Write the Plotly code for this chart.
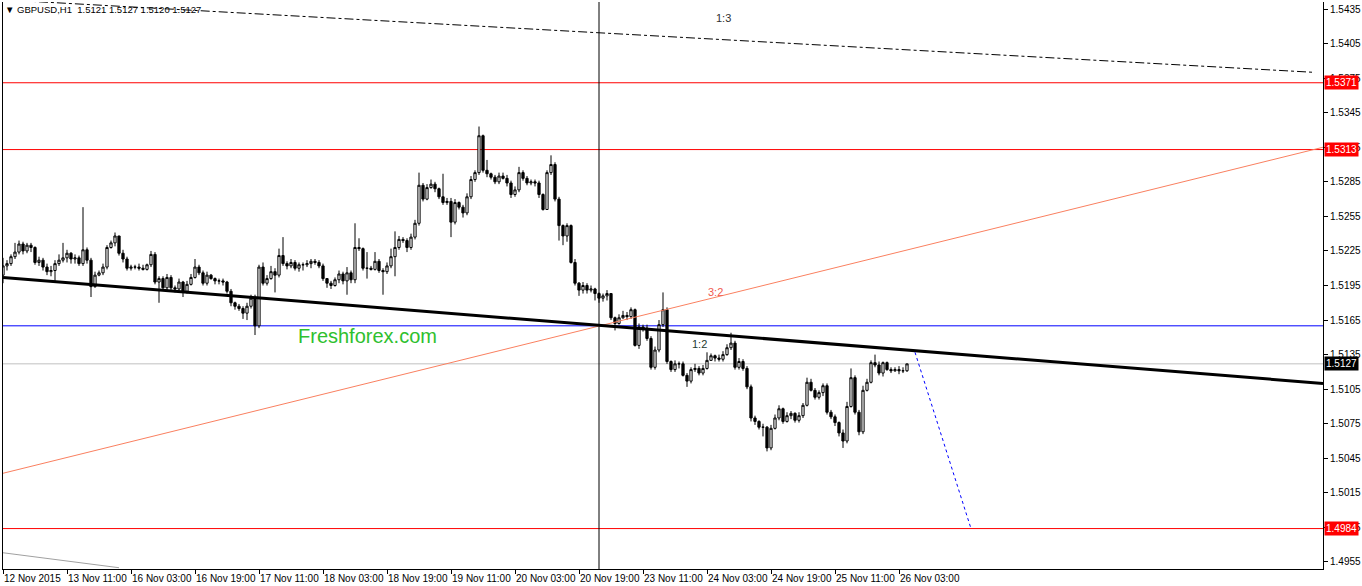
import plotly.graph_objects as go

# GBPUSD H1, bars indexed 0..226 (weekend gap removed like MT4)
first_open = 1.5204
closes = [
    1.5212, 1.5214, 1.5220, 1.5224, 1.5231, 1.5225, 1.5230, 1.5228, 1.5215, 1.5217,
    1.5211, 1.5207, 1.5208, 1.5214, 1.5217, 1.5219, 1.5223, 1.5218, 1.5219, 1.5214,
    1.5226, 1.5217, 1.5194, 1.5204, 1.5206, 1.5211, 1.5228, 1.5232, 1.5238, 1.5223,
    1.5218, 1.5210, 1.5211, 1.5211, 1.5210, 1.5209, 1.5213, 1.5222, 1.5198, 1.5201,
    1.5193, 1.5202, 1.5193, 1.5192, 1.5198, 1.5190, 1.5196, 1.5202, 1.5211, 1.5206,
    1.5197, 1.5204, 1.5201, 1.5199, 1.5199, 1.5198, 1.5190, 1.5180, 1.5177, 1.5175,
    1.5171, 1.5177, 1.5184, 1.5160, 1.5211, 1.5197, 1.5201, 1.5207, 1.5204, 1.5221,
    1.5214, 1.5212, 1.5215, 1.5210, 1.5213, 1.5213, 1.5214, 1.5216, 1.5215, 1.5212,
    1.5201, 1.5197, 1.5195, 1.5200, 1.5205, 1.5199, 1.5206, 1.5200, 1.5228, 1.5227,
    1.5210, 1.5210, 1.5209, 1.5216, 1.5208, 1.5207, 1.5212, 1.5220, 1.5228, 1.5235,
    1.5234, 1.5228, 1.5237, 1.5249, 1.5282, 1.5270, 1.5280, 1.5283, 1.5279, 1.5272,
    1.5267, 1.5268, 1.5250, 1.5267, 1.5263, 1.5258, 1.5272, 1.5287, 1.5293, 1.5325,
    1.5295, 1.5292, 1.5289, 1.5285, 1.5290, 1.5288, 1.5284, 1.5274, 1.5278, 1.5293,
    1.5288, 1.5284, 1.5285, 1.5284, 1.5274, 1.5261, 1.5293, 1.5300, 1.5270, 1.5247,
    1.5238, 1.5247, 1.5215, 1.5197, 1.5191, 1.5195, 1.5191, 1.5192, 1.5188, 1.5184,
    1.5186, 1.5188, 1.5167, 1.5162, 1.5167, 1.5169, 1.5168, 1.5174, 1.5143, 1.5159,
    1.5158, 1.5149, 1.5124, 1.5139, 1.5161, 1.5174, 1.5129, 1.5122, 1.5127, 1.5127,
    1.5117, 1.5112, 1.5122, 1.5123, 1.5119, 1.5123, 1.5130, 1.5134, 1.5132, 1.5131,
    1.5135, 1.5141, 1.5145, 1.5124, 1.5129, 1.5123, 1.5107, 1.5080, 1.5077, 1.5072,
    1.5072, 1.5054, 1.5071, 1.5080, 1.5088, 1.5077, 1.5082, 1.5084, 1.5078, 1.5082,
    1.5091, 1.5111, 1.5104, 1.5098, 1.5102, 1.5108, 1.5085, 1.5081, 1.5076, 1.5067,
    1.5060, 1.5090, 1.5115, 1.5085, 1.5068, 1.5104, 1.5111, 1.5128, 1.5126, 1.5119,
    1.5128, 1.5122, 1.5121, 1.5122, 1.5121, 1.5121, 1.5127,
]
highs = [
    1.5219, 1.5217, 1.5222, 1.5232, 1.5234, 1.5233, 1.5232, 1.5232, 1.5229, 1.5220,
    1.5219, 1.5214, 1.5212, 1.5217, 1.5222, 1.5232, 1.5226, 1.5224, 1.5222, 1.5221,
    1.5263, 1.5228, 1.5219, 1.5207, 1.5208, 1.5214, 1.5230, 1.5234, 1.5241, 1.5236,
    1.5226, 1.5220, 1.5213, 1.5213, 1.5214, 1.5213, 1.5214, 1.5225, 1.5224, 1.5203,
    1.5203, 1.5205, 1.5204, 1.5195, 1.5201, 1.5199, 1.5199, 1.5205, 1.5218, 1.5213,
    1.5208, 1.5207, 1.5205, 1.5202, 1.5201, 1.5201, 1.5199, 1.5192, 1.5181, 1.5179,
    1.5177, 1.5180, 1.5187, 1.5187, 1.5213, 1.5215, 1.5204, 1.5212, 1.5210, 1.5227,
    1.5237, 1.5216, 1.5218, 1.5217, 1.5215, 1.5215, 1.5217, 1.5218, 1.5218, 1.5217,
    1.5214, 1.5201, 1.5199, 1.5202, 1.5208, 1.5207, 1.5211, 1.5208, 1.5249, 1.5236,
    1.5228, 1.5224, 1.5212, 1.5224, 1.5218, 1.5210, 1.5215, 1.5227, 1.5242, 1.5238,
    1.5237, 1.5236, 1.5240, 1.5252, 1.5293, 1.5284, 1.5283, 1.5287, 1.5285, 1.5280,
    1.5292, 1.5271, 1.5271, 1.5270, 1.5268, 1.5265, 1.5275, 1.5290, 1.5295, 1.5333,
    1.5326, 1.5304, 1.5293, 1.5291, 1.5293, 1.5293, 1.5291, 1.5286, 1.5281, 1.5298,
    1.5295, 1.5290, 1.5287, 1.5287, 1.5286, 1.5275, 1.5295, 1.5308, 1.5302, 1.5272,
    1.5248, 1.5249, 1.5248, 1.5218, 1.5198, 1.5198, 1.5197, 1.5195, 1.5193, 1.5189,
    1.5188, 1.5191, 1.5188, 1.5168, 1.5170, 1.5173, 1.5172, 1.5176, 1.5175, 1.5162,
    1.5161, 1.5161, 1.5151, 1.5142, 1.5165, 1.5189, 1.5176, 1.5130, 1.5130, 1.5129,
    1.5129, 1.5119, 1.5124, 1.5127, 1.5125, 1.5126, 1.5137, 1.5136, 1.5135, 1.5135,
    1.5138, 1.5144, 1.5154, 1.5147, 1.5132, 1.5131, 1.5125, 1.5109, 1.5082, 1.5078,
    1.5075, 1.5073, 1.5074, 1.5083, 1.5091, 1.5089, 1.5085, 1.5086, 1.5085, 1.5085,
    1.5093, 1.5115, 1.5114, 1.5106, 1.5104, 1.5110, 1.5110, 1.5087, 1.5083, 1.5077,
    1.5070, 1.5094, 1.5123, 1.5117, 1.5087, 1.5108, 1.5114, 1.5130, 1.5135, 1.5129,
    1.5129, 1.5129, 1.5124, 1.5124, 1.5125, 1.5124, 1.5127,
]
lows = [
    1.5197, 1.5208, 1.5212, 1.5218, 1.5222, 1.5222, 1.5223, 1.5224, 1.5213, 1.5212,
    1.5208, 1.5204, 1.5203, 1.5199, 1.5212, 1.5215, 1.5215, 1.5214, 1.5214, 1.5212,
    1.5212, 1.5214, 1.5185, 1.5193, 1.5203, 1.5204, 1.5209, 1.5227, 1.5229, 1.5221,
    1.5215, 1.5208, 1.5208, 1.5209, 1.5208, 1.5208, 1.5208, 1.5211, 1.5196, 1.5180,
    1.5191, 1.5191, 1.5191, 1.5189, 1.5189, 1.5185, 1.5188, 1.5195, 1.5201, 1.5204,
    1.5195, 1.5195, 1.5200, 1.5196, 1.5196, 1.5195, 1.5188, 1.5177, 1.5174, 1.5173,
    1.5166, 1.5165, 1.5175, 1.5152, 1.5158, 1.5195, 1.5195, 1.5200, 1.5189, 1.5202,
    1.5212, 1.5209, 1.5210, 1.5208, 1.5207, 1.5208, 1.5211, 1.5210, 1.5213, 1.5210,
    1.5199, 1.5193, 1.5192, 1.5194, 1.5197, 1.5196, 1.5187, 1.5197, 1.5197, 1.5225,
    1.5208, 1.5201, 1.5208, 1.5208, 1.5206, 1.5187, 1.5205, 1.5210, 1.5203, 1.5226,
    1.5232, 1.5224, 1.5226, 1.5235, 1.5247, 1.5268, 1.5269, 1.5279, 1.5276, 1.5270,
    1.5265, 1.5265, 1.5237, 1.5248, 1.5261, 1.5254, 1.5256, 1.5270, 1.5285, 1.5291,
    1.5293, 1.5289, 1.5287, 1.5283, 1.5283, 1.5287, 1.5281, 1.5271, 1.5272, 1.5276,
    1.5286, 1.5282, 1.5282, 1.5281, 1.5271, 1.5260, 1.5261, 1.5291, 1.5268, 1.5234,
    1.5230, 1.5233, 1.5214, 1.5195, 1.5186, 1.5188, 1.5188, 1.5189, 1.5182, 1.5180,
    1.5181, 1.5182, 1.5165, 1.5156, 1.5161, 1.5166, 1.5165, 1.5166, 1.5142, 1.5140,
    1.5155, 1.5147, 1.5122, 1.5122, 1.5137, 1.5159, 1.5127, 1.5120, 1.5120, 1.5123,
    1.5116, 1.5107, 1.5110, 1.5120, 1.5117, 1.5117, 1.5122, 1.5130, 1.5129, 1.5129,
    1.5129, 1.5134, 1.5139, 1.5122, 1.5122, 1.5121, 1.5105, 1.5077, 1.5074, 1.5070,
    1.5064, 1.5051, 1.5052, 1.5070, 1.5078, 1.5075, 1.5076, 1.5079, 1.5076, 1.5076,
    1.5080, 1.5090, 1.5103, 1.5096, 1.5096, 1.5099, 1.5083, 1.5079, 1.5073, 1.5064,
    1.5054, 1.5058, 1.5089, 1.5083, 1.5065, 1.5066, 1.5103, 1.5110, 1.5124, 1.5117,
    1.5116, 1.5121, 1.5119, 1.5120, 1.5118, 1.5119, 1.5120,
]
opens = [first_open] + closes[:-1]
bars = list(range(len(closes)))

tick_bars = [0, 16, 32, 48, 64, 80, 96, 112, 128, 144, 160, 176, 192, 208, 224]
tick_text = ["12 Nov 2015", "13 Nov 11:00", "16 Nov 03:00", "16 Nov 19:00", "17 Nov 11:00",
             "18 Nov 03:00", "18 Nov 19:00", "19 Nov 11:00", "20 Nov 03:00", "20 Nov 19:00",
             "23 Nov 11:00", "24 Nov 03:00", "24 Nov 19:00", "25 Nov 11:00", "26 Nov 03:00"]
price_ticks = [1.4955, 1.4985, 1.5015, 1.5045, 1.5075, 1.5105, 1.5135, 1.5165, 1.5195,
               1.5225, 1.5255, 1.5285, 1.5315, 1.5345, 1.5375, 1.5405, 1.5435]

# drawn objects (bar index, price)
trend_x, trend_y = [0, 330], [1.5202, 1.5110]
fan32_x, fan32_y = [0, 330], [1.5032, 1.5315]
fan13_x, fan13_y = [0, 328], [1.5443, 1.5380]
grey_x, grey_y = [0, 29], [1.4963, 1.4950]
proj_x, proj_y = [228, 242], [1.5137, 1.4984]
week_x = 149
red_levels = [1.5371, 1.5313, 1.4984]
blue_level = 1.5160
last_price = 1.5127

FONT = "Liberation Sans"
fig = go.Figure()

fig.add_trace(go.Candlestick(
    x=bars, open=opens, high=highs, low=lows, close=closes,
    increasing=dict(line=dict(color="black", width=1), fillcolor="white"),
    decreasing=dict(line=dict(color="black", width=1), fillcolor="black"),
    whiskerwidth=0, hoverinfo="skip", showlegend=False,
))

for lvl in red_levels:
    fig.add_hline(y=lvl, line=dict(color="#FF0000", width=1), layer="below")
fig.add_hline(y=blue_level, line=dict(color="#0000FF", width=1), layer="below")
fig.add_hline(y=last_price, line=dict(color="#C0C0C0", width=1), layer="below")
fig.add_vline(x=week_x, line=dict(color="black", width=1), layer="below")

def line(xs, ys, color, width, dash="solid"):
    fig.add_trace(go.Scatter(x=xs, y=ys, mode="lines", hoverinfo="skip", showlegend=False,
                             line=dict(color=color, width=width, dash=dash)))

line(fan32_x, fan32_y, "#FA8060", 1)
line(fan13_x, fan13_y, "black", 1, "dashdot")
line(grey_x, grey_y, "#A0A0A0", 1)
line(trend_x, trend_y, "black", 3)
line(proj_x, proj_y, "#0000FF", 1, "dot")

# text on chart
fig.add_annotation(x=180, y=1.5427, text="1:3", showarrow=False,
                   font=dict(family=FONT, size=11, color="#303030"))
fig.add_annotation(x=178, y=1.5189, text="3:2", showarrow=False,
                   font=dict(family=FONT, size=11, color="#F05A50"))
fig.add_annotation(x=174, y=1.5144, text="1:2", showarrow=False,
                   font=dict(family=FONT, size=11, color="#1E3A30"))
fig.add_annotation(x=91, y=1.5151, text="Freshforex.com", showarrow=False,
                   font=dict(family=FONT, size=20, color="#2EC02E"))
fig.add_annotation(xref="paper", yref="paper", x=0.0, y=1.0, xanchor="left", yanchor="top",
                   text="\u25BC GBPUSD,H1  1.5121 1.5127 1.5120 1.5127", showarrow=False,
                   font=dict(family=FONT, size=9.5, color="black"))

# price boxes on the right scale
for lvl, bg in [(1.5371, "#FF0000"), (1.5313, "#FF0000"), (1.4984, "#FF0000"), (last_price, "black")]:
    fig.add_annotation(xref="paper", x=1.0, y=lvl, xanchor="left", xshift=1,
                       text=f"{lvl:.4f}", showarrow=False, bgcolor=bg, borderpad=1,
                       font=dict(family=FONT, size=10, color="white"))

fig.update_layout(
    width=1362, height=586,
    margin=dict(l=3, r=39, t=2, b=17, autoexpand=False),
    plot_bgcolor="white", paper_bgcolor="white",
    hovermode=False, showlegend=False, boxgap=0.2,
    font=dict(family=FONT, size=10, color="black"),
)
fig.update_xaxes(range=[0, 330], tickvals=tick_bars, ticktext=tick_text, tickangle=0,
                 ticks="outside", ticklen=4, tickcolor="black", automargin=False,
                 ticklabelposition="outside right", showgrid=False, zeroline=False,
                 showline=True, linecolor="black", linewidth=1,
                 rangeslider=dict(visible=False))
fig.update_yaxes(side="right", range=[1.49489, 1.54411], tickvals=price_ticks,
                 tickformat=".4f", ticks="outside", ticklen=4, tickcolor="black",
                 showgrid=False, zeroline=False, showline=True, mirror=True,
                 automargin=False, linecolor="black", linewidth=1)

# page has a default body margin; remove it so the chart fills the window
fig.write_html("out.html", config={"displayModeBar": False},
               post_script="document.body.style.margin='0px';document.body.style.overflow='hidden';")
